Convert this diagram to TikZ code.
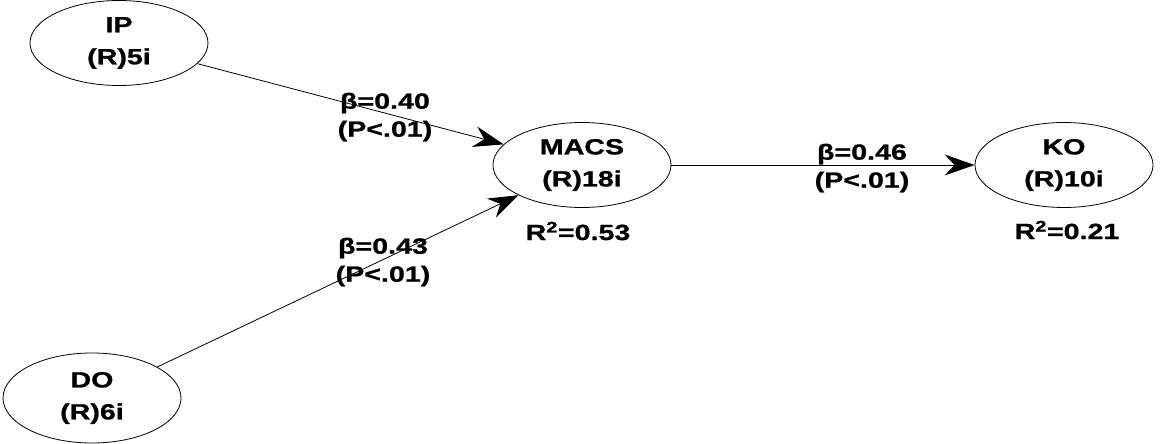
\documentclass[tikz,border=0pt]{standalone}
\usepackage{fontspec}
\newfontfamily\plsfont{Liberation Sans Bold}[FakeStretch=1.3,FakeBold=1]
\usetikzlibrary{shapes.geometric,arrows.meta}
\begin{document}
\begin{tikzpicture}[x=1pt,y=-1pt,
  lv/.style={ellipse,draw,line width=0.8pt,minimum width=178pt,minimum height=85pt,inner sep=0pt,align=center,font=\plsfont\fontsize{22}{32}\selectfont},
  lbl/.style={align=center,font=\plsfont\fontsize{22}{28}\selectfont,inner sep=0pt},
  link/.style={line width=0.8pt,-{Stealth[length=30pt,width=21pt,inset=10pt]}}
]
\useasboundingbox (0,0) rectangle (1165,444);
\node[lv] (ip) at (119,43) {IP\\(R)5i};
\node[lv,minimum height=90pt] (do) at (92,398) {DO\\(R)6i};
\node[lv] (macs) at (582,165) {MACS\\(R)18i};
\node[lv] (ko) at (1064,165) {KO\\(R)10i};
\node[lbl] (r1) at (578,231) {R\textsuperscript{2}=0.53};
\node[lbl] (r2) at (1067,230) {R\textsuperscript{2}=0.21};
\draw[link] (ip) -- (macs);
\draw[link] (do) -- (macs);
\draw[link] (macs) -- (ko);
\node[lbl] (l1) at (385,117) {β=0.40\\(P<.01)};
\node[lbl] (l2) at (383,262) {β=0.43\\(P<.01)};
\node[lbl] (l3) at (862,168) {β=0.46\\(P<.01)};
\end{tikzpicture}
\end{document}
